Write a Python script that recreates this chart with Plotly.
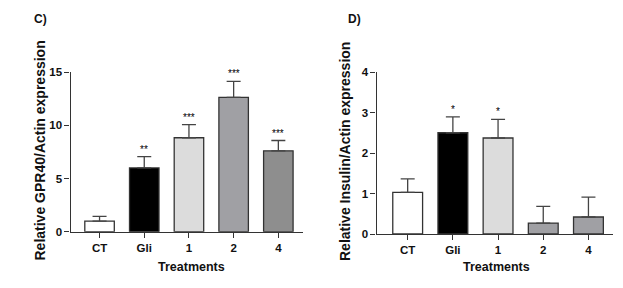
import plotly.graph_objects as go

categories = ["CT", "Gli", "1", "2", "4"]

gpr40_mean = [1.0, 6.0, 8.84, 12.64, 7.61]
gpr40_err = [0.45, 1.07, 1.23, 1.51, 0.97]
gpr40_sig = ["", "**", "***", "***", "***"]

insulin_mean = [1.03, 2.5, 2.37, 0.27, 0.42]
insulin_err = [0.33, 0.39, 0.46, 0.41, 0.49]
insulin_sig = ["", "*", "*", "", ""]

colors_c = ["#ffffff", "#000000", "#dcdcdc", "#a0a0a4", "#8e8e8e"]
colors_d = ["#ffffff", "#000000", "#dcdcdc", "#a0a0a4", "#a0a0a4"]

FONT = "Liberation Sans, Arial, sans-serif"
LINE = "#333333"
W, H = 623, 288

fig = go.Figure()


def add_panel(means, errs, cols, xa, ya):
    fig.add_trace(go.Bar(
        x=categories, y=means, xaxis=xa, yaxis=ya,
        width=0.66,
        marker=dict(color=cols, line=dict(color=LINE, width=1.3)),
        error_y=dict(type="data", symmetric=False, array=errs,
                     arrayminus=[0] * len(errs), color="#444444",
                     thickness=1.3, width=7),
        showlegend=False, hoverinfo="skip",
    ))


add_panel(gpr40_mean, gpr40_err, colors_c, "x", "y")
add_panel(insulin_mean, insulin_err, colors_d, "x2", "y2")

annotations = []
for xa, ya, means, errs, sig in [("x", "y", gpr40_mean, gpr40_err, gpr40_sig),
                                  ("x2", "y2", insulin_mean, insulin_err, insulin_sig)]:
    for i, (m, e, s) in enumerate(zip(means, errs, sig)):
        if s:
            annotations.append(dict(x=i, y=m + e, xref=xa, yref=ya, text=s,
                                    showarrow=False, yanchor="bottom", yshift=0,
                                    font=dict(size=10, color="#000000", family=FONT)))


def paper_text(text, px, py, size, angle=0, xanchor="center"):
    annotations.append(dict(x=px / W, y=1 - py / H, xref="paper", yref="paper",
                            text="<b>%s</b>" % text, showarrow=False, xanchor=xanchor,
                            yanchor="middle", textangle=angle,
                            font=dict(size=size, color="#111111", family=FONT)))


paper_text("C)", 32, 19, 12, xanchor="left")
paper_text("D)", 346, 19, 12, xanchor="left")
paper_text("Treatments", 191, 267, 12.5)
paper_text("Treatments", 497, 267, 12.5)
paper_text("Relative GPR40/Actin expression", 39, 150.5, 14, angle=-90)
paper_text("Relative Insulin/Actin expression", 345, 152, 14, angle=-90)

xcommon = dict(type="category", showline=True, linecolor=LINE, linewidth=1.3,
               ticks="outside", ticklen=5, tickcolor=LINE, tickwidth=1.2,
               showgrid=False, zeroline=False, automargin=False,
               tickfont=dict(size=11.5, color="#111111", family=FONT))
ycommon = dict(showline=True, linecolor=LINE, linewidth=1.3,
               ticks="outside", ticklen=5, tickcolor=LINE, tickwidth=1.2,
               showgrid=False, zeroline=False, automargin=False,
               tickfont=dict(size=11.5, color="#111111", family=FONT))

fig.update_layout(
    width=W, height=H,
    margin=dict(l=0, r=0, t=0, b=0),
    paper_bgcolor="white", plot_bgcolor="white",
    font=dict(family=FONT, color="#111111"),
    xaxis=dict(xcommon, domain=[70.5 / W, 302.7 / W], range=[-0.65, 4.545],
               tickvals=categories, ticktext=["<b>%s</b>" % c for c in categories]),
    yaxis=dict(ycommon, domain=[(H - 231.7) / H, (H - 72.3) / H], range=[0, 15],
               tickvals=[0, 5, 10, 15], ticktext=["<b>0</b>", "<b>5</b>", "<b>10</b>", "<b>15</b>"]),
    xaxis2=dict(xcommon, domain=[376.5 / W, 613.3 / W], range=[-0.69, 4.55], anchor="y2",
                tickvals=categories, ticktext=["<b>%s</b>" % c for c in categories]),
    yaxis2=dict(ycommon, domain=[(H - 234) / H, (H - 72) / H], range=[0, 4],
                anchor="x2",
                tickvals=[0, 1, 2, 3, 4], ticktext=["<b>%d</b>" % v for v in range(5)]),
    annotations=annotations,
)

fig.write_html("out.html", config={"displayModeBar": False},
               post_script="document.body.style.margin='0';")
